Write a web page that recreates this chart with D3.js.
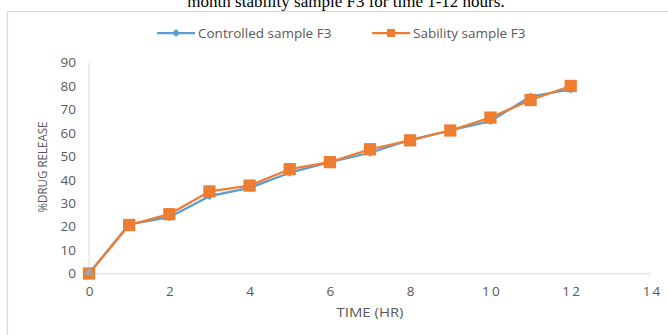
<!DOCTYPE html>
<html>
<head>
<meta charset="utf-8">
<script src="https://cdn.jsdelivr.net/npm/d3@7"></script>
<style>
  body { margin: 0; background: #fff; }
  svg { display: block; }
</style>
</head>
<body>
<div id="container"></div>
<script>
// data
const hours = [0, 1, 2, 3, 4, 5, 6, 7, 8, 9, 10, 11, 12]
const controlled = [0, 21, 24, 33, 36.5, 43, 47.5, 51.5, 57, 61, 65, 75.5, 78.5]
const stability = [0, 20.7, 25.3, 35, 37.5, 44.5, 47.5, 53, 56.8, 61, 66.5, 74, 80]
const extraX = [0]
const extraY = [0]
const xTicks = [0, 2, 4, 6, 8, 10, 12, 14]
const yTicks = [0, 10, 20, 30, 40, 50, 60, 70, 80, 90]

const W = 668, H = 335
const blue = '#5b9bd5', orange = '#ed7d31', grey = '#a5a5a5'
const textCol = '#595959'
const font = "'Open Sans', sans-serif"

const svg = d3.select('#container').append('svg')
  .attr('width', W).attr('height', H)

// caption above the chart, cut off by the top edge as in the source
svg.append('text')
  .attr('x', 346).attr('y', 7)
  .attr('text-anchor', 'middle')
  .style('font-family', "'Liberation Serif', 'Times New Roman', serif")
  .style('font-size', '17px')
  .attr('fill', '#000')
  .text('month stability sample F3 for time 1-12 hours.')

// chart frame (only left and top edges visible)
svg.append('path')
  .attr('d', 'M7.5,' + H + 'V11.5H' + W)
  .attr('fill', 'none').attr('stroke', '#d9d9d9').attr('stroke-width', 1.2)

const x = d3.scaleLinear().domain([0, 14]).range([89, 651])
const y = d3.scaleLinear().domain([0, 90]).range([273.5, 62.5])

// axis lines
svg.append('line')
  .attr('x1', x(0)).attr('x2', x(0)).attr('y1', y(90)).attr('y2', y(0))
  .attr('stroke', '#e3e3e3').attr('stroke-width', 1.2)
svg.append('line')
  .attr('x1', x(0)).attr('x2', x(14)).attr('y1', y(0)).attr('y2', y(0))
  .attr('stroke', '#e3e3e3').attr('stroke-width', 1.5)

// x ticks
const xAxis = svg.append('g')
  .attr('transform', `translate(0, ${y(0) + 18})`)
  .call(d3.axisBottom(x).tickValues(xTicks).tickSize(0).tickPadding(0)
    .tickFormat(d => String(d).split('').join('\u2009')))
xAxis.select('.domain').remove()
xAxis.selectAll('text')
  .attr('dy', '0.35em')
  .style('font-family', font).style('font-size', '13.5px').attr('fill', textCol)

// y ticks
const yAxis = svg.append('g')
  .attr('transform', `translate(76, 0)`)
  .call(d3.axisLeft(y).tickValues(yTicks).tickSize(0).tickPadding(0))
yAxis.select('.domain').remove()
yAxis.selectAll('text')
  .style('font-family', font).style('font-size', '13.5px').attr('fill', textCol)

// axis titles
svg.append('text')
  .attr('x', 370).attr('y', 317)
  .attr('text-anchor', 'middle')
  .style('font-family', font).style('font-size', '12px')
  .attr('fill', textCol)
  .attr('textLength', 67).attr('lengthAdjust', 'spacingAndGlyphs')
  .text('TIME (HR)')

svg.append('text')
  .attr('transform', 'translate(47, 167) rotate(-90)')
  .attr('text-anchor', 'middle')
  .style('font-family', font).style('font-size', '13.5px')
  .attr('fill', textCol)
  .attr('textLength', 91).attr('lengthAdjust', 'spacingAndGlyphs')
  .text('%DRUG RELEASE')

const line = d3.line().x(d => x(d[0])).y(d => y(d[1]))
const blueData = hours.map((h, i) => [h, controlled[i]])
const orangeData = hours.map((h, i) => [h, stability[i]])

const diamond = d3.symbol().type(d3.symbolDiamond2).size(40)
const square = d3.symbol().type(d3.symbolSquare).size(150)
const triangle = d3.symbol().type(d3.symbolTriangle2).size(70)

// controlled series
svg.append('path').datum(blueData)
  .attr('d', line).attr('fill', 'none')
  .attr('stroke', blue).attr('stroke-width', 2.25).attr('stroke-linejoin', 'round')
svg.append('g').selectAll('path').data(blueData).enter().append('path')
  .attr('transform', d => `translate(${x(d[0])}, ${y(d[1])})`)
  .attr('d', diamond).attr('fill', blue)

// stability series
svg.append('path').datum(orangeData)
  .attr('d', line).attr('fill', 'none')
  .attr('stroke', orange).attr('stroke-width', 2.25).attr('stroke-linejoin', 'round')
svg.append('g').selectAll('path').data(orangeData).enter().append('path')
  .attr('transform', d => `translate(${x(d[0])}, ${y(d[1])})`)
  .attr('d', square).attr('fill', orange)

// third unlabelled point at origin
svg.append('g').selectAll('path').data(extraX.map((v, i) => [v, extraY[i]])).enter().append('path')
  .attr('transform', d => `translate(${x(d[0])}, ${y(d[1]) - 1})`)
  .attr('d', triangle).attr('fill', grey)

// legend
const legend = [
  { label: 'Controlled sample F3', color: blue, sym: diamond, x0: 157 },
  { label: 'Sability sample F3', color: orange, sym: d3.symbol().type(d3.symbolSquare).size(64), x0: 372 }
]
const lg = svg.append('g').selectAll('g').data(legend).enter().append('g')
  .attr('transform', d => `translate(${d.x0}, 33)`)
lg.append('line').attr('x1', 0).attr('x2', 38)
  .attr('stroke', d => d.color).attr('stroke-width', 2.25)
lg.append('path').attr('transform', 'translate(19,0)')
  .attr('d', d => d.sym()).attr('fill', d => d.color)
lg.append('text').attr('x', 41).attr('dy', '0.35em')
  .style('font-family', font).style('font-size', '13.5px').attr('fill', textCol)
  .text(d => d.label)
</script>
</body>
</html>
